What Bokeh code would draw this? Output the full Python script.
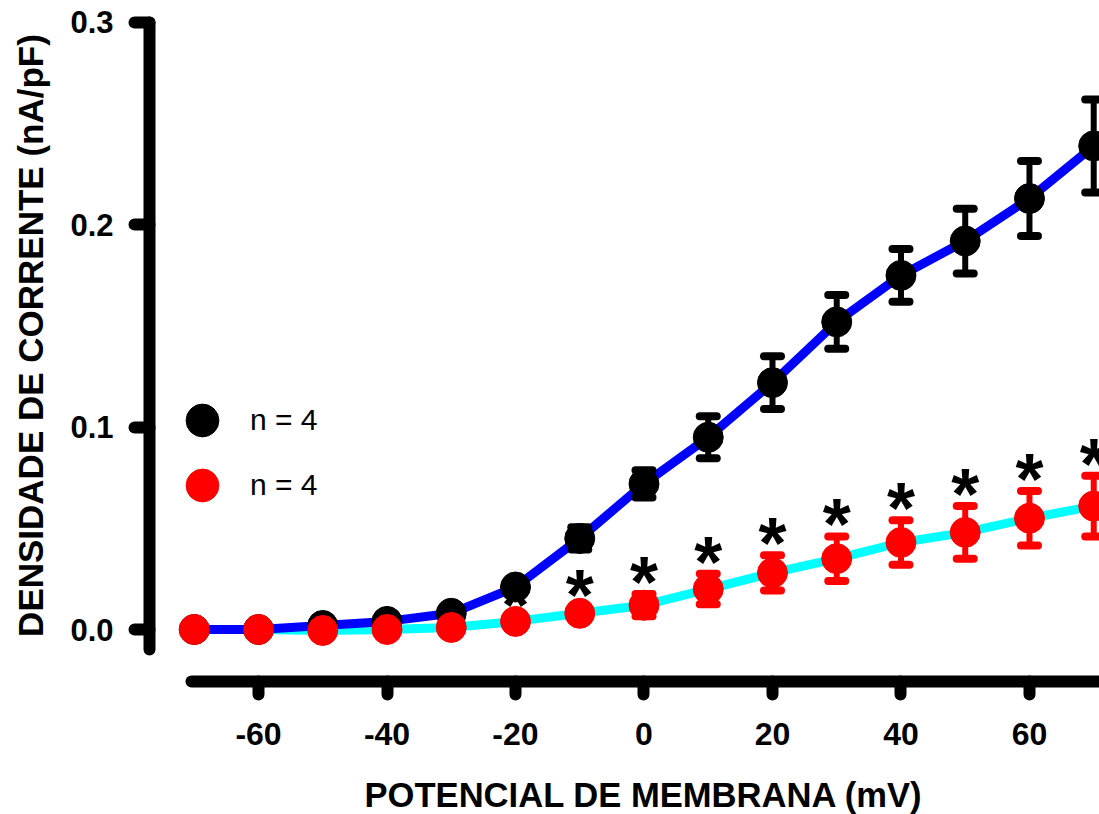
import math
from bokeh.plotting import figure
from bokeh.models import (ColumnDataSource, FixedTicker, Label, Legend, LegendItem,
                          NumeralTickFormatter)
from bokeh.core.properties import value
from bokeh.embed import file_html
from bokeh.resources import INLINE

# ---------------- data ----------------
voltage = [-70, -60, -50, -40, -30, -20, -10, 0, 10, 20, 30, 40, 50, 60, 70]
ctrl_mean = [0.000, 0.000, 0.002, 0.004, 0.008, 0.021, 0.045, 0.072, 0.095,
             0.122, 0.152, 0.175, 0.192, 0.213, 0.239]
ctrl_sem = [0.001, 0.001, 0.001, 0.001, 0.002, 0.003, 0.0055, 0.0067, 0.0104,
            0.013, 0.0133, 0.013, 0.016, 0.0185, 0.023]
trt_mean = [0.000, 0.000, -0.0005, 0.000, 0.001, 0.004, 0.008, 0.012, 0.020,
            0.028, 0.035, 0.043, 0.048, 0.055, 0.061]
trt_sem = [0.001, 0.001, 0.001, 0.001, 0.001, 0.002, 0.003, 0.0055, 0.0075,
           0.0087, 0.011, 0.011, 0.013, 0.0135, 0.015]
sig_voltage = [-20, -10, 0, 10, 20, 30, 40, 50, 60, 70]
x_ticks = [-60, -40, -20, 0, 20, 40, 60]
y_ticks = [0.0, 0.1, 0.2, 0.3]
legend_labels = ["n = 4", "n = 4"]
x_title = "POTENCIAL DE MEMBRANA (mV)"
y_title = "DENSIDADE DE CORRENTE (nA/pF)"

FONT = "Liberation Sans"

ctrl = ColumnDataSource(dict(
    x=voltage, y=ctrl_mean,
    lo=[m - s for m, s in zip(ctrl_mean, ctrl_sem)],
    hi=[m + s for m, s in zip(ctrl_mean, ctrl_sem)]))
trt = ColumnDataSource(dict(
    x=voltage, y=trt_mean,
    lo=[m - s for m, s in zip(trt_mean, trt_sem)],
    hi=[m + s for m, s in zip(trt_mean, trt_sem)]))
star_offset = 0.006
sig = ColumnDataSource(dict(
    x=sig_voltage,
    y=[trt_mean[voltage.index(v)] + trt_sem[voltage.index(v)] + star_offset
       for v in sig_voltage]))

# the frame covers the whole canvas; both axes sit at fixed positions inside it
p = figure(width=1099, height=814,
           x_range=(-100.16, 70.9), y_range=(-0.09143, 0.31087),
           min_border_left=0, min_border_right=0, min_border_top=0,
           min_border_bottom=0,
           output_backend="svg", toolbar_location=None)
p.outline_line_color = None
p.grid.visible = False
p.background_fill_color = "white"
p.border_fill_color = "white"

# axes
for ax in (p.xaxis[0], p.yaxis[0]):
    ax.axis_line_width = 12
    ax.axis_line_cap = "round"
    ax.axis_line_color = "black"
    ax.major_tick_line_width = 12
    ax.major_tick_line_cap = "round"
    ax.major_tick_line_color = "black"
    ax.major_tick_in = 0
    ax.minor_tick_line_color = None
    ax.major_label_text_font = FONT
    ax.major_label_text_font_style = "bold"
    ax.major_label_text_color = "black"

p.xaxis.fixed_location = -0.0257
p.xaxis.ticker = FixedTicker(ticks=x_ticks)
p.xaxis.major_label_overrides = {t: str(t) for t in x_ticks}
p.xaxis.bounds = (-70.5, 70.9)
p.xaxis.major_tick_out = 13
p.xaxis.major_label_text_font_size = "32px"
p.xaxis.major_label_standoff = 28

p.yaxis.fixed_location = -76.96
p.yaxis.ticker = FixedTicker(ticks=y_ticks)
p.yaxis.formatter = NumeralTickFormatter(format="0.0")
p.yaxis.bounds = (-0.0099, 0.3)
p.yaxis.major_tick_out = 15
p.yaxis.major_label_text_font_size = "31px"
p.yaxis.major_label_standoff = 21

# axis titles
p.add_layout(Label(x=0, y=-0.0820, text=x_title, text_font=FONT, text_font_style="bold",
                   text_font_size="34.6px", text_align="center", text_baseline="middle",
                   text_color="black"))
p.add_layout(Label(x=-95.49, y=0.1453, text=y_title, text_font=FONT, text_font_style="bold",
                   text_font_size="35px", text_align="center", text_baseline="middle",
                   angle=math.pi / 2, text_color="black"))

# fitted curves (drawn through the means)
p.line("x", "y", source=trt, line_color="#00FFFF", line_width=9, line_join="round")
p.line("x", "y", source=ctrl, line_color="#0000FF", line_width=9, line_join="round")

# control error bars + markers
p.segment(x0="x", y0="lo", x1="x", y1="hi", source=ctrl, line_color="black", line_width=6)
p.scatter("x", "hi", source=ctrl, marker="dash", size=17, line_width=8,
          line_color="black", line_cap="round")
p.scatter("x", "lo", source=ctrl, marker="dash", size=17, line_width=8,
          line_color="black", line_cap="round")
r_ctrl = p.scatter("x", "y", source=ctrl, size=30, fill_color="black", line_color="black")

# asterisks
p.text("x", "y", source=sig, text=value("*"), text_font=value(FONT),
       text_font_style="bold", text_font_size="72px", text_align="center",
       text_baseline="middle", text_color="black")

# treated error bars + markers
p.segment(x0="x", y0="lo", x1="x", y1="hi", source=trt, line_color="#FF0000", line_width=6)
p.scatter("x", "hi", source=trt, marker="dash", size=17, line_width=8,
          line_color="#FF0000", line_cap="round")
p.scatter("x", "lo", source=trt, marker="dash", size=17, line_width=8,
          line_color="#FF0000", line_cap="round")
r_trt = p.scatter("x", "y", source=trt, size=30, fill_color="#FF0000", line_color="#FF0000")

legend_style = dict(glyph_width=82, glyph_height=82, padding=0, margin=0,
                    label_standoff=7, label_text_font=FONT,
                    label_text_font_size="30px", label_text_color="black",
                    border_line_color=None, background_fill_alpha=0)
p.add_layout(Legend(items=[LegendItem(label=legend_labels[0], renderers=[r_ctrl])],
                    location=(161, 353), **legend_style))
p.add_layout(Legend(items=[LegendItem(label=legend_labels[1], renderers=[r_trt])],
                    location=(161, 288), **legend_style))

open("out.html", "w").write(file_html(p, INLINE))
